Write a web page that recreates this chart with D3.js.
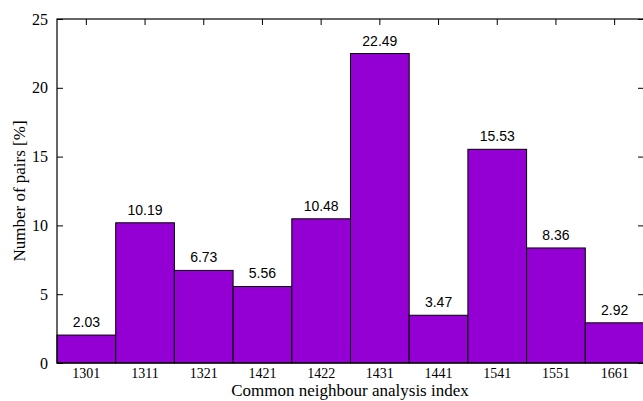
<!DOCTYPE html>
<html><head><meta charset="utf-8">
<script src="https://cdn.jsdelivr.net/npm/d3@7"></script>
<style>body{margin:0;background:#fff;overflow:hidden}svg{display:block}</style>
</head><body>
<script>
const categories = ["1301","1311","1321","1421","1422","1431","1441","1541","1551","1661"];
const values = [2.03,10.19,6.73,5.56,10.48,22.49,3.47,15.53,8.36,2.92];
const yTicks = [0,5,10,15,20,25];

const W=643,H=401;
const L=57,R=644,T=19,B=363;
const svg=d3.select("body").append("svg").attr("width",W).attr("height",H);
const x=d3.scaleBand().domain(categories).range([L,R]).padding(0);
const y=d3.scaleLinear().domain([0,25]).range([B,T]);
const serif="'Liberation Serif', 'Times New Roman', serif";

svg.append("g").selectAll("rect").data(values).join("rect")
  .attr("x",(d,i)=>x(categories[i])).attr("y",d=>y(d))
  .attr("width",x.bandwidth()).attr("height",d=>B-y(d))
  .attr("fill","#9400d3").attr("stroke","#000").attr("stroke-width",1);

svg.append("g").selectAll("text").data(values).join("text")
  .attr("x",(d,i)=>x(categories[i])+x.bandwidth()/2).attr("y",d=>y(d)-8)
  .attr("text-anchor","middle").attr("font-family","'Liberation Sans', Arial, sans-serif").attr("font-size",14)
  .text(d=>d.toFixed(2));

// axes
const gl=svg.append("g").attr("transform",`translate(${L},0)`)
  .call(d3.axisLeft(y).tickValues(yTicks).tickSize(-6).tickPadding(9).tickFormat(d3.format("d")));
gl.selectAll("text").attr("font-family",serif).attr("font-size",16).attr("fill","#000");
const gr=svg.append("g").attr("transform",`translate(${R},0)`)
  .call(d3.axisRight(y).tickValues(yTicks).tickSize(-6).tickFormat(""));
const gb=svg.append("g").attr("transform",`translate(0,${B})`)
  .call(d3.axisBottom(x).tickSize(0).tickPadding(0));
gb.selectAll("text").attr("font-family",serif).attr("font-size",14).attr("fill","#000")
  .attr("dy",null).attr("y",15);
const gt=svg.append("g").attr("transform",`translate(0,${T})`)
  .call(d3.axisTop(x).tickSize(-6).tickFormat(""));
[gl,gr,gb,gt].forEach(g=>{g.select(".domain").remove();g.selectAll("line").attr("stroke","#000");});
svg.append("rect").attr("x",L).attr("y",T).attr("width",R-L).attr("height",B-T)
  .attr("fill","none").attr("stroke","#000").attr("stroke-width",1.2);

svg.append("text").attr("x",350).attr("y",396).attr("text-anchor","middle")
  .attr("font-family",serif).attr("font-size",17).text("Common neighbour analysis index");
svg.append("text").attr("transform",`translate(25,${(T+B)/2}) rotate(-90)`).attr("text-anchor","middle")
  .attr("font-family",serif).attr("font-size",17).text("Number of pairs [%]");
</script>
</body></html>
